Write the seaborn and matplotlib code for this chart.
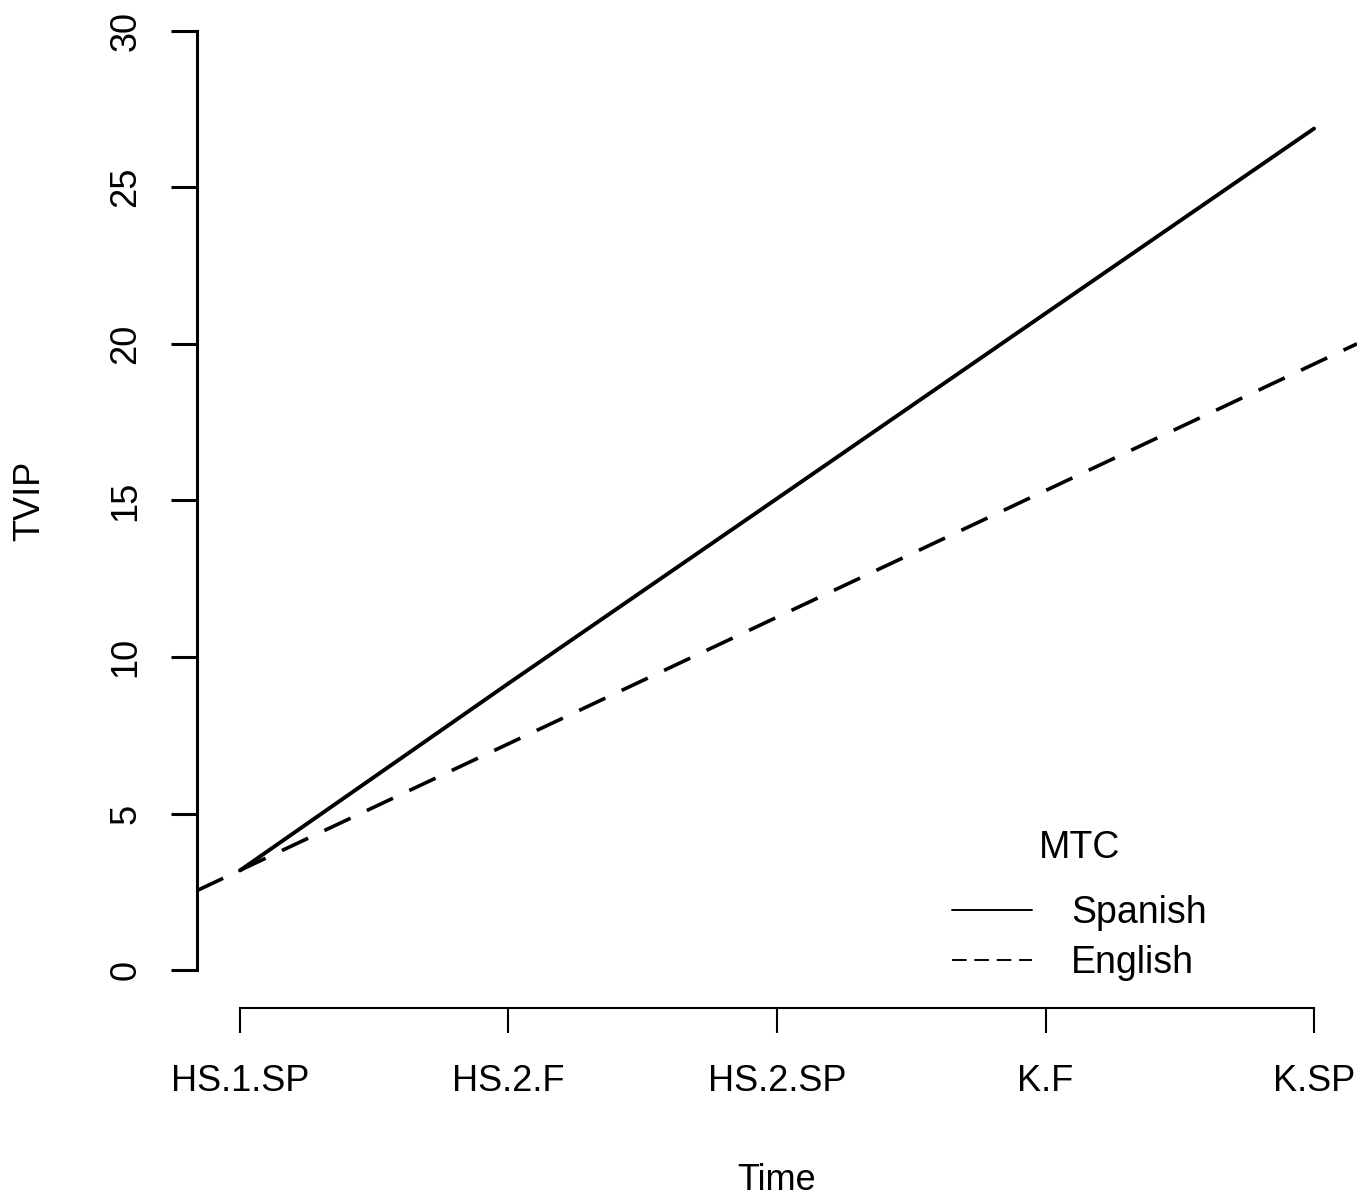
import numpy as np
import pandas as pd
import matplotlib
matplotlib.use("Agg")
import matplotlib.pyplot as plt
from matplotlib.lines import Line2D
import seaborn as sns

# ---- data ----
times = ["HS.1.SP", "HS.2.F", "HS.2.SP", "K.F", "K.SP"]
spanish = [3.19, 9.16, 15.06, 20.97, 26.87]
english = [3.13, 7.28, 11.33, 15.32, 19.31]
groups = ["Spanish", "English"]
yticks = [0, 5, 10, 15, 20, 25, 30]

sns.set_style("ticks")
plt.rcParams["font.family"] = ["Liberation Sans", "DejaVu Sans"]
for k in ["text.color", "axes.labelcolor", "xtick.color", "ytick.color", "axes.edgecolor"]:
    plt.rcParams[k] = "black"

FS = 26
LFS = 27
W, H = 1370, 1201
fig = plt.figure(figsize=(W / 100, H / 100), dpi=100)

# axes region (R plot region with 4% padding)
left_px, right_px = 197, 1357
bottom_px = 1008
ylim = (-1.2, 31.2)
xlim = (-0.16, len(times) - 1 + 0.16)
px_per_unit = 31.33
height_px = (ylim[1] - ylim[0]) * px_per_unit
ax = fig.add_axes([left_px / W, 1 - bottom_px / H, (right_px - left_px) / W, height_px / H])

xpos = np.arange(len(times))
df = pd.DataFrame({"Time": np.tile(xpos, 2),
                   "TVIP": spanish + english,
                   "MTC": np.repeat(groups, len(times))})

ax.set_xlim(*xlim)
ax.set_ylim(*ylim)

# Spanish: solid line through the cell means
sns.lineplot(data=df[df["MTC"] == "Spanish"], x="Time", y="TVIP", color="black",
             lw=2.8, ax=ax, legend=False)
# English: dashed fitted line across the full plot region
sns.regplot(data=df[df["MTC"] == "English"], x="Time", y="TVIP", scatter=False, ci=None,
            truncate=False, color="black",
            line_kws=dict(lw=2.6, linestyle=(0, (8, 5)), solid_capstyle="butt"), ax=ax)

ax.set_xlim(*xlim)
ax.set_ylim(*ylim)

# axes styling like R base graphics
for s in ["top", "right"]:
    ax.spines[s].set_visible(False)
ax.spines["left"].set_bounds(0, 30)
ax.spines["left"].set_linewidth(2.2)
ax.spines["bottom"].set_bounds(0, len(times) - 1)
ax.spines["bottom"].set_linewidth(1.5)

ax.set_yticks(yticks)
ax.set_yticklabels([str(v) for v in yticks], rotation=90, va="center")
ax.set_xticks(xpos)
ax.set_xticklabels(times)
ax.tick_params(axis="y", length=18.7, width=2.2, pad=20, labelsize=FS, direction="out")
ax.tick_params(axis="x", length=18, width=1.5, pad=22, labelsize=FS, direction="out")

ax.set_ylabel("TVIP", fontsize=FS, va="center")
ax.yaxis.set_label_coords((30 - left_px) / (right_px - left_px), 0.5)
ax.set_xlabel("Time", fontsize=FS, va="center")
ax.xaxis.set_label_coords(0.5, -(1181 - bottom_px) / height_px)

handles = [Line2D([], [], color="black", lw=1.4, linestyle="-"),
           Line2D([], [], color="black", lw=1.4, linestyle=(0, (7.5, 4)))]
leg = ax.legend(handles, groups, title="MTC", loc="upper left",
                bbox_to_anchor=(952 / W, 1 - 830 / H), bbox_transform=fig.transFigure,
                frameon=False, borderpad=0, borderaxespad=0, fontsize=LFS, title_fontsize=LFS,
                handlelength=2.13, handletextpad=1.04, labelspacing=0.37)
leg._legend_box.sep = 21
ax.grid(False)

fig.savefig("out.png", dpi=100, facecolor="white")
